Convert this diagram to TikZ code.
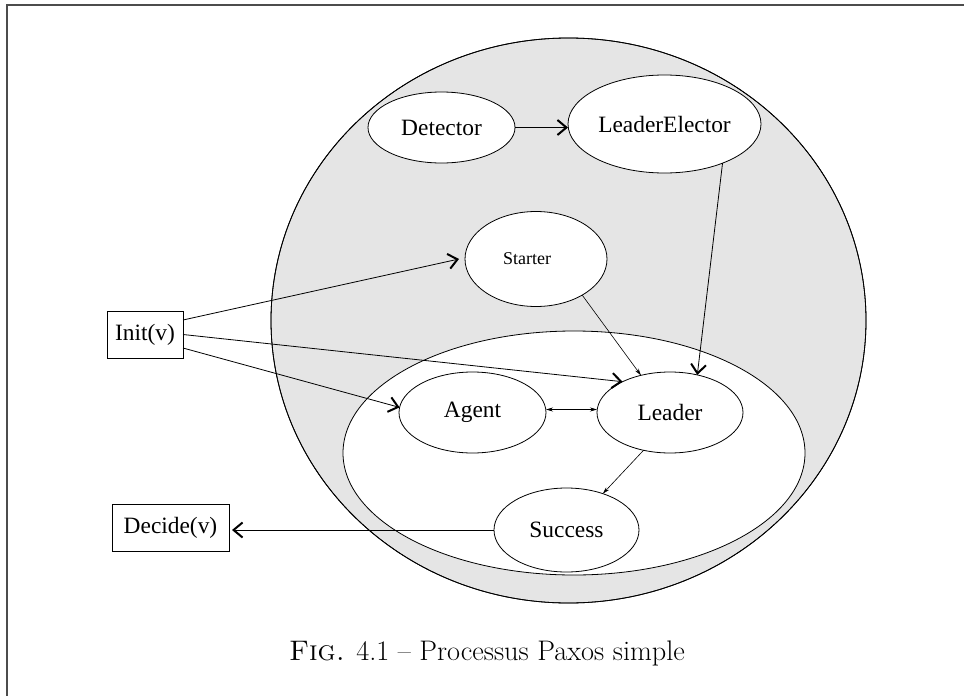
\documentclass[tikz,border=0pt]{standalone}
\usepackage{fontspec}
\newfontfamily\lblfont{Liberation Serif}
\usetikzlibrary{shapes.geometric,arrows.meta}

\begin{document}
\begin{tikzpicture}[x=1pt,y=-1pt,
  every node/.style={inner sep=0pt, outer sep=0pt},
  proc/.style={ellipse, draw, line width=0.8pt, fill=white,
    font=\lblfont\fontsize{23.4}{28}\selectfont},
  labelbox/.style={rectangle, draw, line width=0.8pt, fill=white,
    font=\lblfont\fontsize{23.4}{28}\selectfont},
  conn/.style={line width=0.8pt,
    -{Straight Barb[length=9pt,width=15pt,line width=2pt]}},
  smallarrow/.style={line width=0.6pt,
    -{Stealth[length=7pt,width=4pt]}},
  twoway/.style={line width=0.6pt,
    {Stealth[length=7pt,width=4pt]}-{Stealth[length=7pt,width=4pt]}},
]
\useasboundingbox (0,0) rectangle (964,696);

% page frame (top and left rules)
\draw[line width=1.6pt, black!70] (7,696) -- (7,5) -- (964,5);

% process container and its core
\node[ellipse, draw, line width=0.8pt, fill=gray!20,
      minimum width=595pt, minimum height=565pt] (paxos) at (568.5,320.5) {};
\node[ellipse, draw, line width=0.8pt, fill=white,
      minimum width=462pt, minimum height=244pt] (core) at (574,453) {};

% components
\node[proc, minimum width=147pt, minimum height=71pt] (det) at (441.5,127.5) {Detector};
\node[proc, minimum width=193pt, minimum height=98pt] (elect) at (664.5,124) {LeaderElector};
\node[proc, minimum width=142pt, minimum height=95pt,
      font=\lblfont\fontsize{18}{22}\selectfont] (starter) at (536,259)
      {\hspace*{-18pt}Starter};
\node[proc, minimum width=147pt, minimum height=81pt] (agent) at (472.5,412.5) {Agent};
\node[proc, minimum width=146pt, minimum height=81pt] (leader) at (670,412.5) {Leader};
\node[proc, minimum width=145pt, minimum height=84pt] (success) at (566.5,530) {Success};

% outline of the container stays visible over the components
\draw[line width=0.8pt] (paxos.center) ellipse [x radius=297.5, y radius=282.5];

% interface actions
\node[labelbox, minimum width=76pt, minimum height=47pt] (init) at (145,334.5) {Init(v)};
\node[labelbox, minimum width=117pt, minimum height=47pt] (decide) at (170.5,527.5) {Decide(v)};

% connections
\draw[conn] (det.east) -- (elect.west |- det.east);
\draw[conn] (elect.-34) -- (leader.54);
\draw[conn] ([yshift=14.5pt]init.east) -- ([xshift=-6pt]starter.west);
\draw[conn] (init.east) -- (leader.147);
\draw[conn] ([yshift=-13.5pt]init.east) -- (agent.176);
\draw[smallarrow] (starter.-38) -- (leader.128);
\draw[twoway] ([yshift=3pt]agent.east) -- ([yshift=3pt]leader.west);
\draw[smallarrow] (leader.235) -- (success.45);
\draw[conn] (success.west) -- ([xshift=3pt]decide.east |- success.west);

% caption
\node[anchor=base, font=\fontsize{28.3}{32}\selectfont] (caption) at (487,660)
  {\textsc{Fig.} 4.1 -- Processus Paxos simple};
\end{tikzpicture}
\end{document}
